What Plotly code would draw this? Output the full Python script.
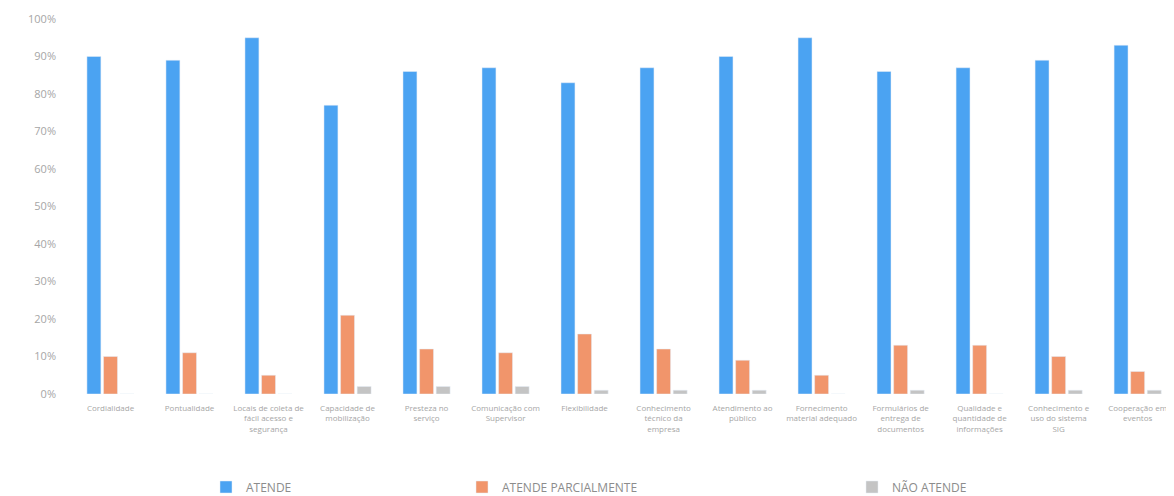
import plotly.graph_objects as go

categories = [
    "Cordialidade",
    "Pontualidade",
    "Locais de coleta de<br>fácil acesso e<br>segurança",
    "Capacidade de<br>mobilização",
    "Presteza no<br>serviço",
    "Comunicação com<br>Supervisor",
    "Flexibilidade",
    "Conhecimento<br>técnico da<br>empresa",
    "Atendimento ao<br>público",
    "Fornecimento<br>material adequado",
    "Formulários de<br>entrega de<br>documentos",
    "Qualidade e<br>quantidade de<br>informações",
    "Conhecimento e<br>uso do sistema<br>SIG",
    "Cooperação em<br>eventos",
]
atende = [90, 89, 95, 77, 86, 87, 83, 87, 90, 95, 86, 87, 89, 93]
parcial = [10, 11, 5, 21, 12, 11, 16, 12, 9, 5, 13, 13, 10, 6]
nao_atende = [0, 0, 0, 2, 2, 2, 1, 1, 1, 0, 1, 0, 1, 1]
y_ticks = [0, 10, 20, 30, 40, 50, 60, 70, 80, 90, 100]

# page has an 8px body margin; figure sized to fit the window
W, H = 1166, 488
L, R, T, B = 63, 0, 11, 102
PW = W - L - R

fig = go.Figure()
fig.add_trace(go.Bar(x=categories, y=atende, name="ATENDE", marker_color="#4ba3f2", legend="legend"))
fig.add_trace(go.Bar(x=categories, y=parcial, name="ATENDE PARCIALMENTE", marker_color="#f1956b", legend="legend2"))
fig.add_trace(go.Bar(x=categories, y=nao_atende, name="NÃO ATENDE", marker_color="#c4c4c4", legend="legend3"))

legend_common = dict(orientation="h", yanchor="middle", y=-0.248, xanchor="left",
                     font=dict(size=12, color="#8c8c8c", family="Open Sans"),
                     bgcolor="rgba(0,0,0,0)")
fig.update_layout(
    width=W, height=H,
    margin=dict(l=L, r=R, t=T, b=B, autoexpand=False),
    paper_bgcolor="white", plot_bgcolor="white",
    showlegend=True,
    barmode="group", bargap=0.37, bargroupgap=0.16,
    font=dict(family="Open Sans", color="#a0a0a0", size=9),
    legend=dict(**legend_common, x=(198 - L) / PW),
    legend2=dict(**legend_common, x=(454 - L) / PW),
    legend3=dict(**legend_common, x=(844 - L) / PW),
    xaxis=dict(showline=False, ticks="", range=[-0.5, 13.46], automargin=False,
               tickfont=dict(size=8, color="#a6a6a6"), tickangle=0,
               ticklabelstandoff=8),
    yaxis=dict(range=[0, 100], tickvals=y_ticks, ticktext=[f"{v}%" for v in y_ticks],
               showgrid=False, zeroline=False, showline=False, automargin=False,
               tickfont=dict(size=11, color="#a6a6a6"), ticks="",
               ticklabelstandoff=14),
)
fig.write_html("out.html")
